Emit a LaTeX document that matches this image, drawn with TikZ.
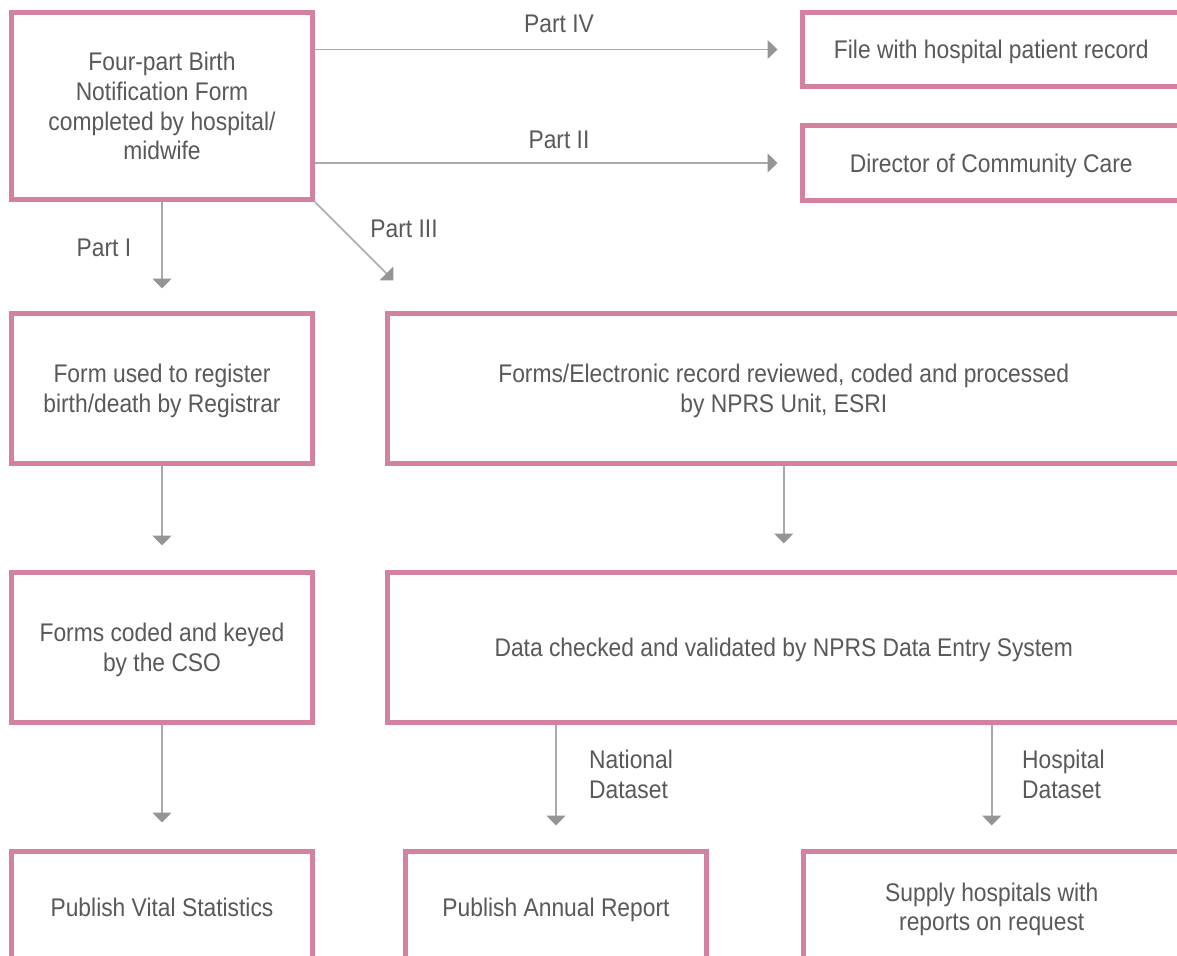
\documentclass[tikz,border=0pt]{standalone}
\usepackage{fontspec}
\setmainfont{Liberation Sans}[FakeStretch=0.895]
\usetikzlibrary{arrows.meta}
\definecolor{pinkb}{RGB}{212,128,160}
\definecolor{txt}{RGB}{88,89,91}
\definecolor{lineg}{RGB}{170,170,172}
\definecolor{headg}{RGB}{147,149,152}
\tikzset{
  box/.style={draw=pinkb, line width=5pt, fill=white, inner sep=0pt, align=center, text=txt,
    text depth=0pt, font=\fontsize{25.5}{29.7}\selectfont},
  lbl/.style={text=txt, inner sep=0pt, font=\fontsize{25.5}{29.7}\selectfont},
  arr/.style={draw=lineg, line width=1.5pt, -{Triangle[length=10pt,width=19pt,color=headg]}}
}
\begin{document}
\begin{tikzpicture}[x=1pt,y=-1pt]
\useasboundingbox (0,0) rectangle (1177,955);
\clip (0,0) rectangle (1177,955);
\fill[white] (0,0) rectangle (1177,955);
% row 1
\node[box, minimum width=301pt, minimum height=187pt] (b1) at (162,106)
  {Four-part Birth\\Notification Form\\completed by hospital/\\midwife};
\node[box, minimum width=377.5pt, minimum height=74pt] (file) at (991.25,49.5)
  {File with hospital patient record};
\node[box, minimum width=377.5pt, minimum height=75pt] (dir) at (991.25,163)
  {Director of Community Care};
% row 2
\node[box, minimum width=301pt, minimum height=150pt] (reg) at (162,388.5)
  {Form used to register\\birth/death by Registrar};
\node[box, minimum width=792.5pt, minimum height=150pt] (npr) at (783.75,388.5)
  {Forms/Electronic record reviewed, coded and processed\\by NPRS Unit, ESRI};
% row 3
\node[box, minimum width=301pt, minimum height=150pt] (cso) at (162,647.5)
  {Forms coded and keyed\\by the CSO};
\node[box, minimum width=792.5pt, minimum height=150pt] (val) at (783.75,647.5)
  {Data checked and validated by NPRS Data Entry System};
% row 4
\node[box, minimum width=301pt, minimum height=110.5pt] (vital) at (162,906.75)
  {Publish Vital Statistics};
\node[box, minimum width=301pt, minimum height=110.5pt] (annual) at (556,906.75)
  {Publish Annual Report};
\node[box, minimum width=376.5pt, minimum height=110.5pt] (supply) at (991.75,906.75)
  {Supply hospitals with\\reports on request};
% connectors
\draw[arr] (b1.east |- file.west) -- ([xshift=-22.5pt]file.west);
\draw[arr] (b1.east |- dir.west) -- ([xshift=-22.5pt]dir.west);
\draw[arr] (b1.south east) -- ([xshift=8.5pt,yshift=30.5pt]npr.north west);
\draw[arr] (b1.south) -- ([yshift=22.5pt]reg.north);
\draw[arr] (reg.south) -- ([yshift=24.5pt]cso.north);
\draw[arr] (npr.south) -- ([yshift=26.5pt]val.north);
\draw[arr] (cso.south) -- ([yshift=26.5pt]vital.north);
\draw[arr] (annual.north |- val.south) -- ([yshift=23.5pt]annual.north);
\draw[arr] (supply.north |- val.south) -- ([yshift=23.5pt]supply.north);
% labels
\node[lbl] (l4) at (559,23.5) {Part IV};
\node[lbl] (l2) at (559,139.5) {Part II};
\node[lbl] (l3) at (404,229) {Part III};
\node[lbl] (l1) at (104,247.5) {Part I};
\node[lbl, align=left, anchor=west] (lnat) at (589,774.5) {National\\Dataset};
\node[lbl, align=left, anchor=west] (lhos) at (1022,774.5) {Hospital\\Dataset};
\end{tikzpicture}
\end{document}
